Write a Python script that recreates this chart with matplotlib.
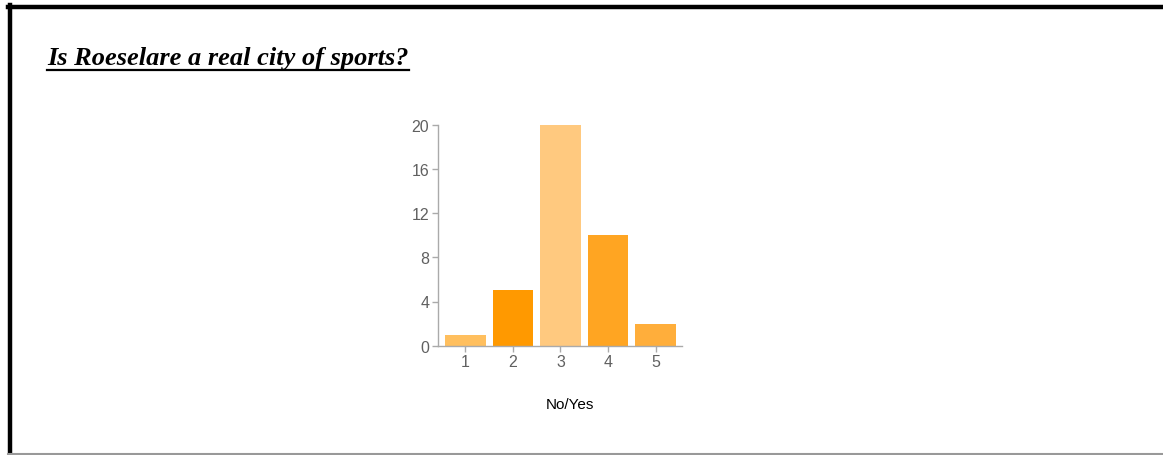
import matplotlib
matplotlib.use("Agg")
import matplotlib.pyplot as plt
from matplotlib.lines import Line2D

# survey answers on a 1..5 scale
categories = ["1", "2", "3", "4", "5"]
counts = [1, 5, 20, 10, 2]
bar_colors = ["#FFBF5E", "#FF9900", "#FFC97F", "#FFA522", "#FFAE3B"]
yticks = [0, 4, 8, 12, 16, 20]
title = "Is Roeselare a real city of sports?"
xlabel = "No/Yes"

W, H = 1163, 456
fig = plt.figure(figsize=(W / 100, H / 100), dpi=100)

# frame around the panel
fig.add_artist(Line2D([9.5 / W, 9.5 / W], [0, 1 - 6 / H], color="black", lw=3.2, transform=fig.transFigure))
fig.add_artist(Line2D([8 / W, 1], [1 - 7.5 / H, 1 - 7.5 / H], color="black", lw=3.2, transform=fig.transFigure))
fig.add_artist(Line2D([8 / W, 1], [0.8 / H, 0.8 / H], color="#999999", lw=1.5, transform=fig.transFigure))

# title, serif bold italic, underlined
t = fig.text(47 / W, 1 - 65 / H, title, fontfamily="Liberation Serif", fontsize=19,
             fontweight="bold", fontstyle="italic", color="black", va="baseline")

ax = fig.add_axes([437.7 / W, 109.3 / H, 244 / W, 221 / H])
x = list(range(1, len(categories) + 1))
ax.bar(x, counts, width=0.85, color=bar_colors, edgecolor="none")
ax.set_xlim(0.42, 5.55)
ax.set_ylim(0, 20)
ax.set_xticks(x)
ax.set_xticklabels(categories)
ax.set_yticks(yticks)
for s in ["top", "right"]:
    ax.spines[s].set_visible(False)
for s in ["left", "bottom"]:
    ax.spines[s].set_color("#aaaaaa")
    ax.spines[s].set_linewidth(1)
ax.tick_params(axis="both", colors="#aaaaaa", labelcolor="#606060", length=4, width=1, pad=2)
for lab in ax.get_xticklabels() + ax.get_yticklabels():
    lab.set_fontfamily("Liberation Sans")
    lab.set_fontsize(11.5)
ax.set_xlabel(xlabel, fontfamily="Liberation Sans", fontsize=11, color="black")
ax.xaxis.set_label_coords(0.54, -0.23)

fig.canvas.draw()
bb = t.get_window_extent(renderer=fig.canvas.get_renderer())
uy = 1 - 70.5 / H
fig.add_artist(Line2D([bb.x0 / W, bb.x1 / W], [uy, uy], color="black", lw=1.6, transform=fig.transFigure))

fig.savefig("out.png", dpi=100)
